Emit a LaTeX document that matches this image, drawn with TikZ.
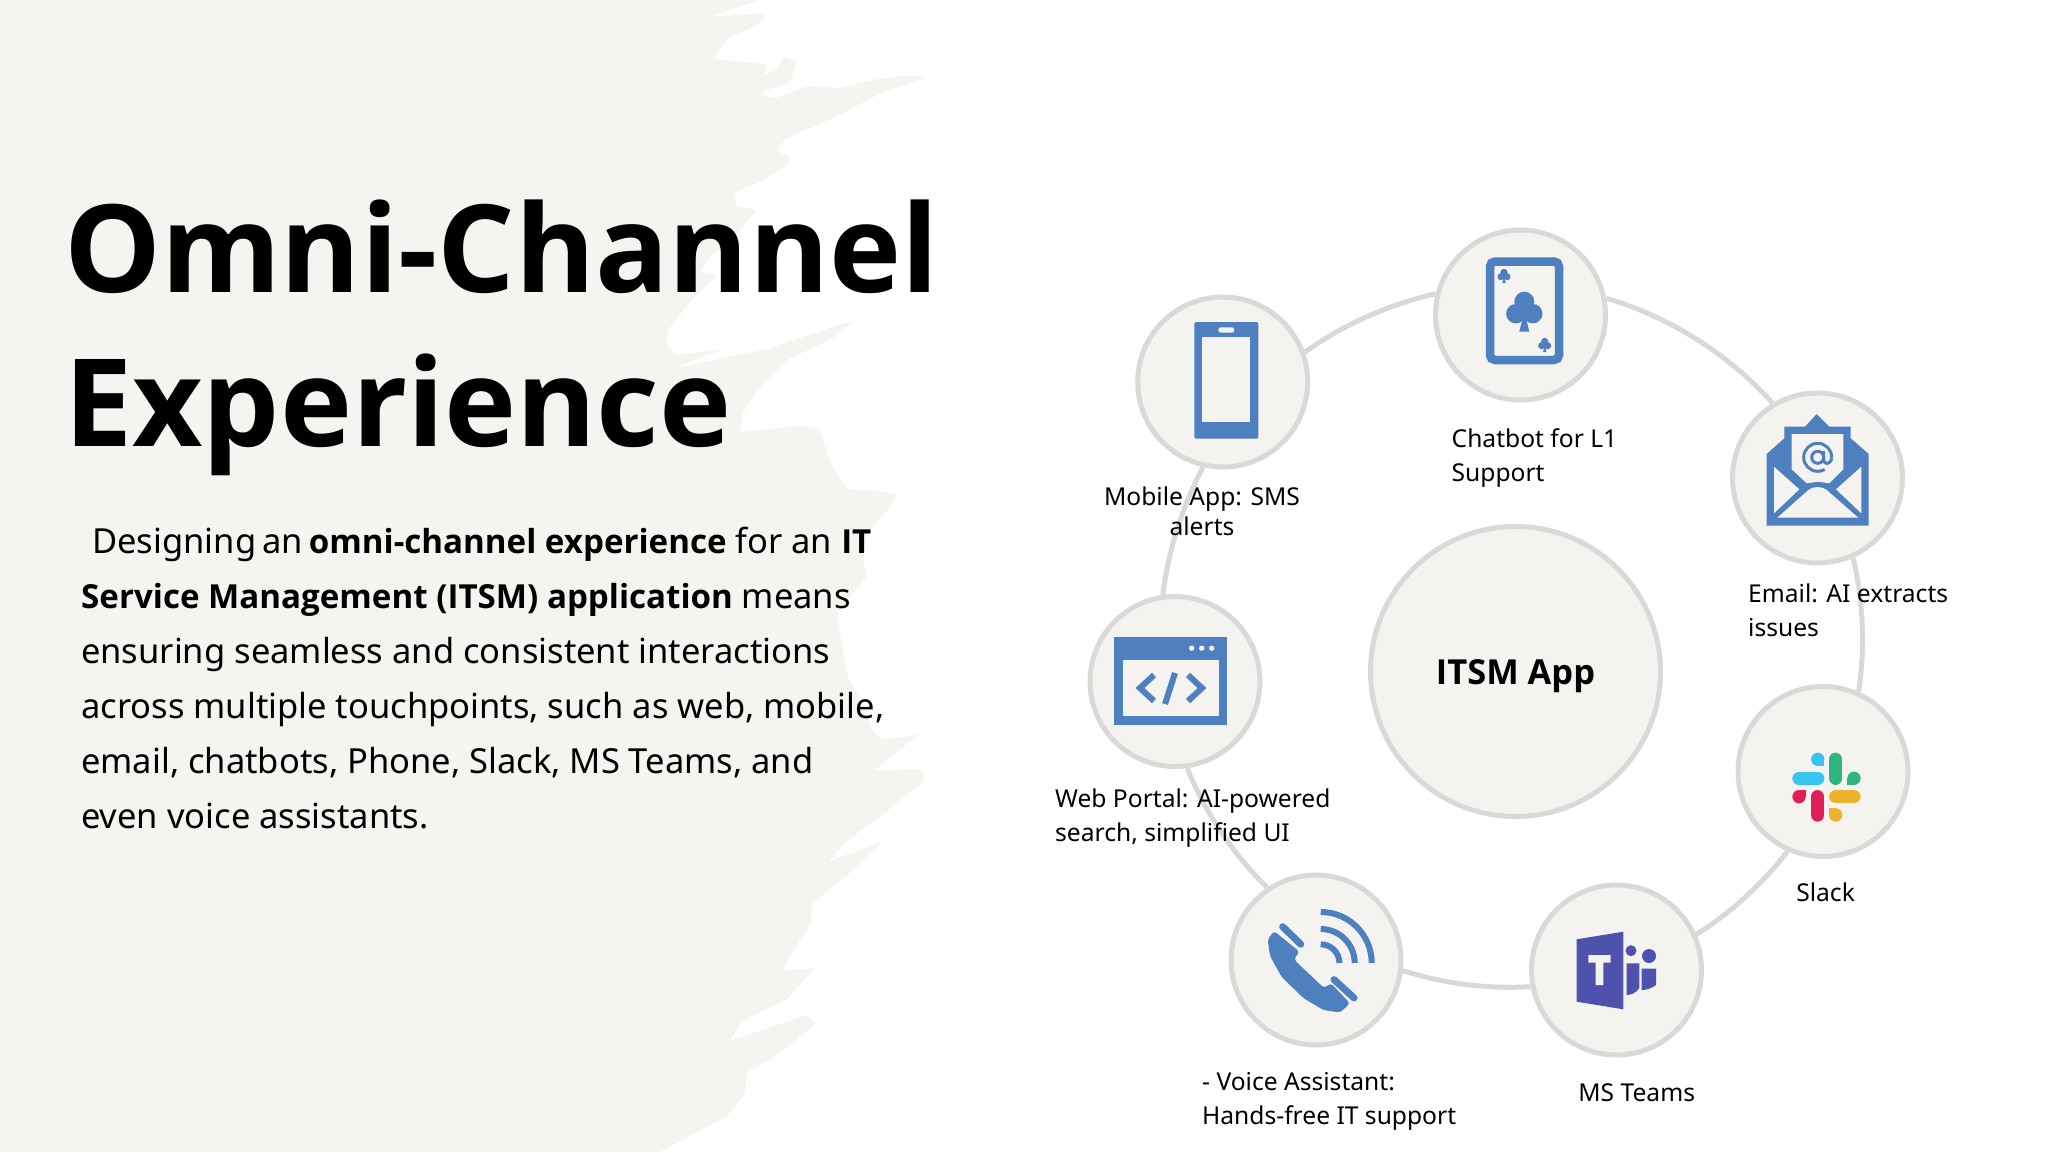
\documentclass[tikz,border=0pt]{standalone}
\usepackage{fontspec}
\setmainfont{Noto Sans}[BoldFont={Open Sans Bold}, BoldFeatures={Scale=0.96}]
\definecolor{softbg}{RGB}{244, 243, 239}
\definecolor{brushbg}{RGB}{245, 244, 241}
\definecolor{ringgray}{RGB}{217, 217, 217}
\definecolor{iconblue}{RGB}{78, 127, 190}
\definecolor{teamspurple}{RGB}{79, 82, 172}
\definecolor{slackblue}{RGB}{54, 197, 240}
\definecolor{slackgreen}{RGB}{46, 182, 125}
\definecolor{slackyellow}{RGB}{236, 178, 46}
\definecolor{slackred}{RGB}{224, 30, 90}
\tikzset{
  channel/.style={circle, draw=ringgray, line width=5pt, fill=softbg, minimum size=170pt, inner sep=0pt},
  ringlink/.style={draw=ringgray, line width=5pt, looseness=0.85},
  labeltext/.style={font=\fontsize{24.6}{34}\selectfont, inner sep=0pt, align=left, anchor=west},
  titletext/.style={font=\fontsize{127}{154}\selectfont\bfseries, inner sep=0pt, align=left, anchor=west},
  bodytext/.style={font=\fontsize{34.5}{55}\selectfont, inner sep=0pt, align=left, anchor=west},
  clubmark/.pic={
    \fill (0,-10) circle (10) (-8.5,2) circle (9.7) (8.5,2) circle (9.7);
    \fill (0,0) -- (5,20) -- (-5,20) -- cycle;
  }
}
\begin{document}
\begin{tikzpicture}[x=1pt,y=-1pt]
\useasboundingbox[fill=white] (0,0) rectangle (2048,1152);

% Brush background
\fill[brushbg, rounded corners=3pt] (0,0) -- (760,0) -- (708,17) -- (765,13) -- (763,22) -- (727,39) -- (713,59)
  -- (767,64) -- (763,75) -- (777,70) -- (783,57) -- (797,62) -- (790,83) -- (760,92) -- (773,99) -- (807,86)
  -- (840,88) -- (877,79) -- (910,75) -- (925,78) -- (883,92) -- (833,118) -- (787,138) -- (775,151) -- (790,156)
  -- (788,165) -- (763,180) -- (735,193) -- (735,206) -- (757,210) -- (747,221) -- (730,243) -- (713,254)
  -- (700,272) -- (717,276) -- (693,298) -- (667,331) -- (667,346) -- (675,355) -- (723,349) -- (672,369)
  -- (767,349) -- (855,320) -- (833,338) -- (787,360) -- (763,384) -- (743,412) -- (740,432) -- (800,426)
  -- (820,430) -- (830,463) -- (847,489) -- (897,493) -- (890,507) -- (867,533) -- (863,559) -- (867,576)
  -- (837,613) -- (843,650) -- (847,675) -- (863,705) -- (872,730) -- (883,740) -- (920,734) -- (900,749)
  -- (873,771) -- (923,769) -- (925,780) -- (887,811) -- (847,841) -- (828,862) -- (883,841) -- (853,870)
  -- (813,903) -- (810,925) -- (793,951) -- (782,971) -- (815,968) -- (787,999) -- (743,1021) -- (730,1041)
  -- (807,1015) -- (817,1023) -- (773,1058) -- (747,1072) -- (745,1094) -- (727,1116) -- (660,1152) -- (0,1152) -- cycle;

% Left text
\node[titletext] (title) at (64,338) {Omni-Channel\\Experience};
\node[bodytext] (body) at (81,678) {\hspace*{11pt}Designing\kern-3pt{} an \kern-3pt\textbf{omni-channel experience} for an \textbf{IT}\\
\textbf{Service Management (ITSM) application} means\\
ensuring seamless and consistent interactions\\
across multiple touchpoints, such as web, mobile,\\
email, chatbots, Phone, Slack, MS Teams, and\\
even voice assistants.};

% Channels
\node[channel] (itsm) at (1515.5,671.5) [minimum size=290pt, font=\fontsize{35.9}{40}\selectfont\bfseries] {\raisebox{-12.5pt}[0pt][0pt]{ITSM App}};
\node[channel] (mobile) at (1222.7,382) {};
\node[channel] (chatbot) at (1520.5,315) {};
\node[channel] (email) at (1817.5,478) {};
\node[channel] (slack) at (1823,771.5) {};
\node[channel] (teams) at (1616.5,970) {};
\node[channel] (voice) at (1316,960) {};
\node[channel] (web) at (1175,681.5) {};

% Ring links
\draw[ringlink] (mobile.20) to[bend left=11.5] (chatbot.166);
\draw[ringlink] (chatbot.11) to[bend left=16] (email.121);
\draw[ringlink] (email.-66) to[bend left=11] (slack.66);
\draw[ringlink] (slack.246) to[bend left=10] (teams.24);
\draw[ringlink] (teams.191) to[bend left=10.5] (voice.-7);
\draw[ringlink] (voice.124) to[bend left=11.7] (web.-82);
\draw[ringlink] (web.98) to[bend left=10.5] (mobile.257);

% Mobile icon
\fill[iconblue, rounded corners=1.5pt] (1194.3,322) rectangle (1258.3,438.7);
\fill[softbg] (1202.3,337.3) rectangle (1250.3,422.3);
\fill[softbg, rounded corners=2.5pt] (1218.3,327.3) rectangle (1234.3,332.7);

% Chatbot card icon
\draw[iconblue, line width=8.5pt, rounded corners=5pt] (1490,261.5) rectangle (1559,360);
\pic[iconblue] at (1524.3,311.7) {clubmark};
\pic[iconblue, scale=0.36] at (1504,276) {clubmark};
\pic[iconblue, scale=0.36] at (1544.7,345) {clubmark};

% Email icon
\fill[iconblue] (1766.7,454) -- (1784.3,438.3) -- (1784.3,426.7) -- (1805,426.7) -- (1816.7,414) -- (1829.3,426.7)
  -- (1850.7,426.7) -- (1850.7,438.3) -- (1868.7,454) -- (1868.7,525.7) -- (1766.7,525.7) -- cycle;
\fill[softbg] (1791.7,434) -- (1843.3,434) -- (1843.3,469.3) -- (1829.3,483.3) -- (1817.7,481.7) -- (1806.7,483.3) -- (1791.7,469.3) -- cycle;
\fill[softbg] (1774,466.7) -- (1799.3,489.3) -- (1774,513.3) -- cycle;
\fill[softbg] (1861.3,466.7) -- (1836,489.3) -- (1861.3,513.3) -- cycle;
\fill[softbg] (1777.3,517.7) -- (1808.3,490) .. controls (1813,486) and (1822,486) .. (1826.7,490) -- (1858.3,517.7) -- cycle;
\draw[iconblue, line width=3pt] (1817.7,457.3) circle (6);
\draw[iconblue, line width=3pt] (1831.7,457.3) arc[start angle=0, end angle=-300, radius=14];
\draw[iconblue, line width=3pt] (1823.7,451) -- (1823.7,460) .. controls (1824,465) and (1831,465) .. (1831.7,457.3);

% Web portal icon
\fill[iconblue] (1114.3,637) rectangle (1227.3,724.5);
\fill[softbg] (1122.7,659.6) rectangle (1219,716);
\foreach \dotx in {1191.7,1201.7,1211.7}
  \fill[softbg] (\dotx,648.2) circle (2.7);
\draw[iconblue, line width=6pt] (1154,675) -- (1140,688) -- (1154,701);
\draw[iconblue, line width=6pt] (1175,673) -- (1165,704);
\draw[iconblue, line width=6pt] (1188,675) -- (1202,688) -- (1188,701);

% Voice icon
\fill[iconblue, rounded corners=3pt] (1274,931) -- (1267.7,939.5) -- (1270,956) -- (1281.7,977) -- (1303.3,998)
  -- (1323.3,1010) -- (1340,1012.5) -- (1350,1003.4) -- (1331,983.3) -- (1324,988) -- (1294,959.6) -- (1299.3,951.5) -- cycle;
\draw[iconblue, line width=7pt, line cap=round] (1282.7,926.7) -- (1300.7,944.2);
\draw[iconblue, line width=7pt, line cap=round] (1334,979.6) -- (1354,997.9);
\foreach \wave in {18.7,34,51}
  \draw[iconblue, line width=6pt] (1320.7,963-\wave) arc[start angle=-90, end angle=0, radius=\wave];

% Slack icon
\foreach \barcol/\ax/\ay/\bx/\by in {slackblue/1799/778.3/1817.7/778.3, slackgreen/1835.7/759.3/1835.7/778.3,
    slackyellow/1835.7/796.7/1854/796.7, slackred/1817.7/796.7/1817.7/815}
  \draw[\barcol, line width=13.3pt, line cap=round] (\ax,\ay) -- (\bx,\by);
\foreach \tabcol/\cx/\cy/\sx/\sy in {slackblue/1817.7/759.3/6.65/6.65, slackgreen/1854/778.3/-6.65/6.65,
    slackyellow/1835.7/815/-6.65/-6.65, slackred/1799/796.7/6.65/-6.65} {
  \fill[\tabcol] (\cx,\cy) circle (6.65);
  \fill[\tabcol] (\cx,\cy) rectangle ++(\sx,\sy);
}

% Teams icon
\fill[teamspurple] (1576.7,939.3) -- (1623.3,931.7) -- (1623.3,1009.3) -- (1576.7,1001.7) -- cycle;
\fill[softbg] (1588.3,955) rectangle (1610.7,962.7) (1595.7,962.7) rectangle (1603.3,985);
\fill[teamspurple] (1631,950.7) circle (5.5) (1649,956) circle (7);
\fill[teamspurple] (1626.7,963.3) -- (1639.3,963.3) -- (1639.3,988) .. controls (1636,993) and (1631,995) .. (1626.7,995) -- cycle;
\fill[teamspurple] (1641.7,968.7) -- (1656,968.7) -- (1656,985) .. controls (1652,988) and (1647,990) .. (1641.7,990) -- cycle;

% Labels
\node[labeltext, anchor=center, align=center] (mobilelabel) at (1202,511) {Mobile App: SMS\\[-4pt]alerts};
\node[labeltext] (chatbotlabel) at (1451.5,458.5) {Chatbot for L1\\Support};
\node[labeltext] (emaillabel) at (1748,610) {Email: AI extracts\\issues};
\node[labeltext] (weblabel) at (1055,818.5) {Web Portal: AI-powered\\search, simplified UI};
\node[labeltext] (voicelabel) at (1202,1101.5) {- Voice Assistant:\\Hands-free IT support};
\node[labeltext, anchor=center] (teamslabel) at (1636.7,1093) {MS Teams};
\node[labeltext, anchor=center] (slacklabel) at (1825.6,892) {Slack};
\end{tikzpicture}
\end{document}
